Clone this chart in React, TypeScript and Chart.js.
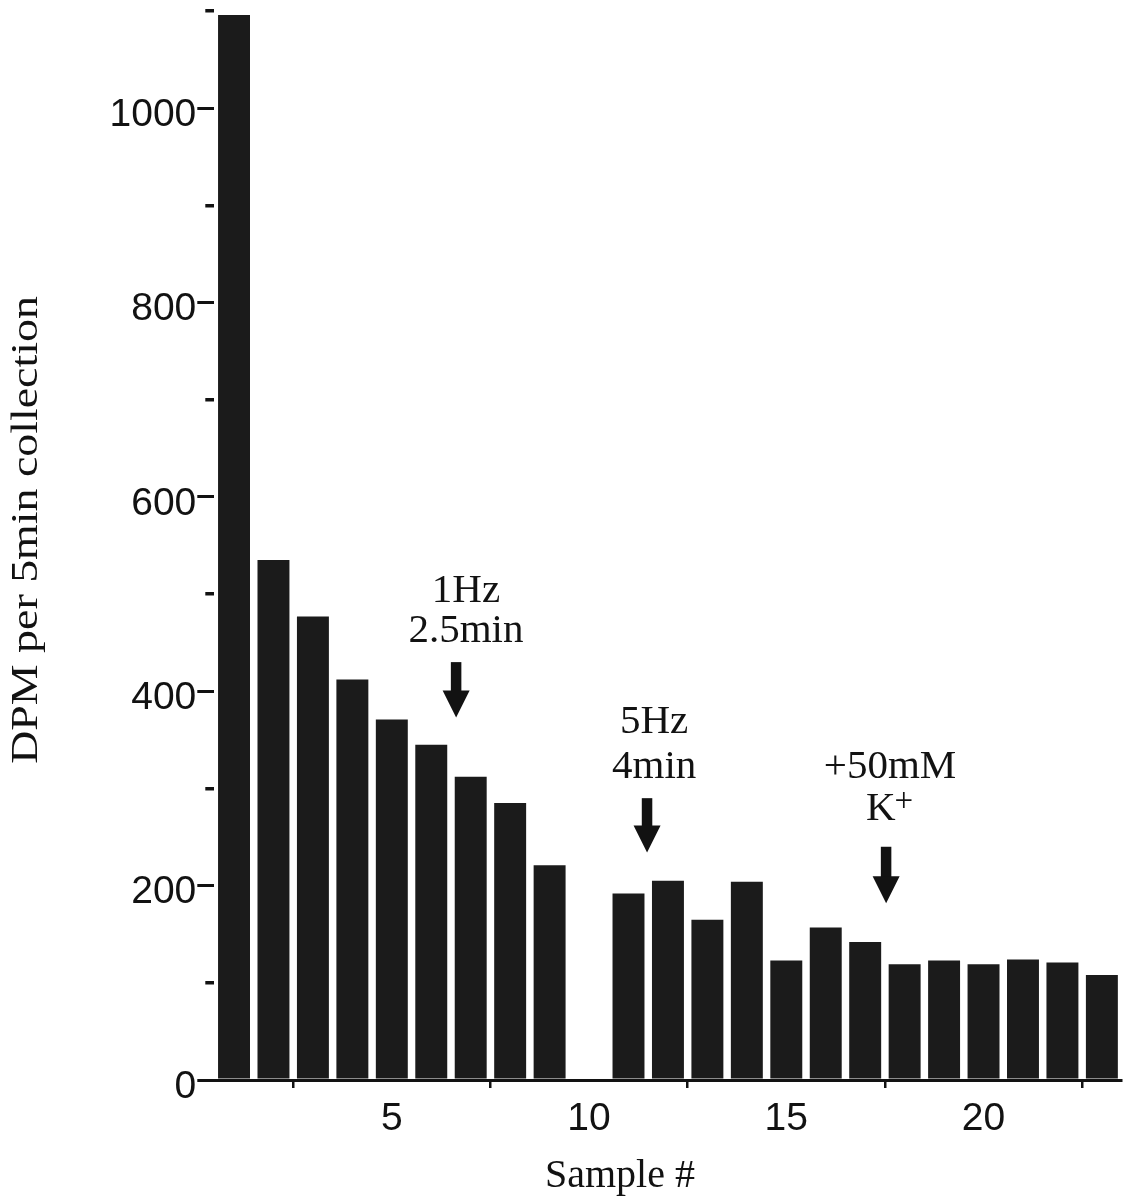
import React, { useEffect, useRef } from 'react';
import { Chart, registerables } from 'chart.js';

Chart.register(...registerables);

// ---- data ----
const samples = ['1', '2', '3', '4', '5', '6', '7', '8', '9', '10', '11', '12', '13', '14', '15', '16', '17', '18', '19', '20', '21', '22', '23'];
const dpm = [1096, 535, 477, 412, 371, 345, 312, 285, 221, null, 192, 205, 165, 204, 123, 157, 142, 119, 123, 119, 124, 121, 108];
const xTickLabels = ['5', '10', '15', '20'];
const xTickMarkIndices = [2, 7, 12, 17, 22];
const yMajorTicks = [0, 200, 400, 600, 800, 1000];
const yMinorTicks = [100, 300, 500, 700, 900, 1100];

// stimulus annotations (x in sample units, y in DPM units)
const stimulusLines = [['1Hz', '2.5min'], ['5Hz', '4min'], ['+50mM', 'K']];
const stimulusTextX = [6.88, 11.65, 17.63];
const stimulusTextY = [[492, 451], [357, 311], [311, 268]];
const stimulusArrowX = [6.63, 11.47, 17.53];
const stimulusArrowTop = [430, 290, 240];
const stimulusArrowTip = [373, 234, 182];

const SANS = '"Liberation Sans", Arial, Helvetica, sans-serif';
const SERIF = '"Liberation Serif", "Times New Roman", Times, serif';
const INK = '#121212';

const annotationPlugin = {
  id: 'stimAnnotations',
  afterDraw(chart: any) {
    const ctx = chart.ctx as CanvasRenderingContext2D;
    const xs = chart.scales.x;
    const ys = chart.scales.y;
    const px = (s: number) => xs.getPixelForValue(s - 1);
    ctx.save();
    ctx.fillStyle = INK;
    ctx.textBaseline = 'alphabetic';
    ctx.font = `41px ${SERIF}`;
    stimulusLines.forEach((lines, i) => {
      const cx = px(stimulusTextX[i]);
      lines.forEach((t, j) => {
        const y = ys.getPixelForValue(stimulusTextY[i][j]);
        if (t === 'K') {
          ctx.font = `41px ${SERIF}`;
          const kw = ctx.measureText('K').width;
          ctx.font = `33px ${SERIF}`;
          const pw = ctx.measureText('+').width;
          const start = cx - (kw + pw) / 2;
          ctx.font = `41px ${SERIF}`;
          ctx.textAlign = 'left';
          ctx.fillText('K', start, y);
          ctx.font = `33px ${SERIF}`;
          ctx.fillText('+', start + kw - 1, y - 9);
          ctx.font = `41px ${SERIF}`;
        } else {
          ctx.textAlign = 'center';
          ctx.fillText(t, cx, y);
        }
      });
      // arrow
      const ax = px(stimulusArrowX[i]);
      const top = ys.getPixelForValue(stimulusArrowTop[i]);
      const tip = ys.getPixelForValue(stimulusArrowTip[i]);
      const headLen = 27;
      const shaftW = 10.5;
      const headW = 27;
      ctx.fillRect(ax - shaftW / 2, top, shaftW, tip - headLen - top + 1);
      ctx.beginPath();
      ctx.moveTo(ax - headW / 2, tip - headLen);
      ctx.lineTo(ax + headW / 2, tip - headLen);
      ctx.lineTo(ax, tip);
      ctx.closePath();
      ctx.fill();
    });

    // x axis title
    ctx.font = `40px ${SERIF}`;
    ctx.textAlign = 'center';
    ctx.fillText('Sample #', 620, 1187);

    // y axis title
    ctx.save();
    ctx.translate(37, 530);
    ctx.rotate(-Math.PI / 2);
    ctx.scale(1.24, 1);
    ctx.font = `37px ${SERIF}`;
    ctx.textAlign = 'center';
    ctx.fillText('DPM per 5min collection', 0, 0);
    ctx.restore();

    ctx.restore();
  },
};

export default function App() {
  const ref = useRef<HTMLCanvasElement>(null);

  useEffect(() => {
    const canvas = ref.current;
    if (!canvas) return;
    const chart = new Chart(canvas, {
      type: 'bar',
      data: {
        labels: samples,
        datasets: [
          {
            label: 'DPM per 5min collection',
            data: dpm,
            backgroundColor: '#1b1b1b',
            borderWidth: 0,
            barPercentage: 0.81,
            categoryPercentage: 1,
            yAxisID: 'y',
          },
        ],
      },
      options: {
        responsive: false,
        animation: false,
        devicePixelRatio: 1,
        layout: { padding: { top: 11, right: 8.4, bottom: 0, left: 0 } },
        plugins: {
          legend: { display: false },
          tooltip: { enabled: false },
          title: { display: false },
        },
        scales: {
          x: {
            type: 'category',
            offset: true,
            grid: {
              offset: true,
              drawOnChartArea: false,
              drawTicks: true,
              tickLength: 8,
              lineWidth: 2.5,
              color: (c: any) => (c.index !== undefined && xTickMarkIndices.includes(c.index) ? INK : 'rgba(0,0,0,0)'),
            },
            border: { display: true, color: INK, width: 3 },
            ticks: {
              autoSkip: false,
              maxRotation: 0,
              minRotation: 0,
              padding: 8,
              color: INK,
              font: { family: SANS, size: 39 },
              callback: (_v: any, i: number) => (xTickLabels.includes(samples[i]) ? samples[i] : ''),
            },
            afterFit: (s: any) => {
              s.height = 122;
              s.paddingLeft = 0;
              s.paddingRight = 0;
            },
          },
          y: {
            type: 'linear',
            position: 'left',
            weight: 1,
            min: 0,
            max: 1100,
            afterBuildTicks: (s: any) => {
              s.ticks = yMajorTicks.map((v) => ({ value: v }));
            },
            grid: { drawOnChartArea: false, drawTicks: true, tickLength: 17, lineWidth: 3, color: INK },
            border: { display: false },
            ticks: {
              padding: 1,
              labelOffset: 7,
              color: INK,
              font: { family: SANS, size: 39 },
              callback: (v: any) => String(v),
            },
            title: { display: false },
            afterFit: (s: any) => {
              s.width = 214.3;
              s.paddingTop = 0;
              s.paddingBottom = 0;
            },
          },
          yMinor: {
            type: 'linear',
            position: 'left',
            weight: 0,
            min: 0,
            max: 1100,
            afterBuildTicks: (s: any) => {
              s.ticks = yMinorTicks.map((v) => ({ value: v }));
            },
            grid: { drawOnChartArea: false, drawTicks: true, tickLength: 9, lineWidth: 3.5, color: INK },
            border: { display: false },
            ticks: { display: false },
            afterFit: (s: any) => {
              s.width = 0;
              s.paddingTop = 0;
              s.paddingBottom = 0;
            },
          },
        },
      } as any,
      plugins: [annotationPlugin],
    });
    return () => chart.destroy();
  }, []);

  return (
    <div style={{ position: 'fixed', left: 0, top: 0, width: 1130, height: 1202, background: '#ffffff' }}>
      <canvas ref={ref} width={1130} height={1202} style={{ display: 'block', width: 1130, height: 1202 }} />
    </div>
  );
}
